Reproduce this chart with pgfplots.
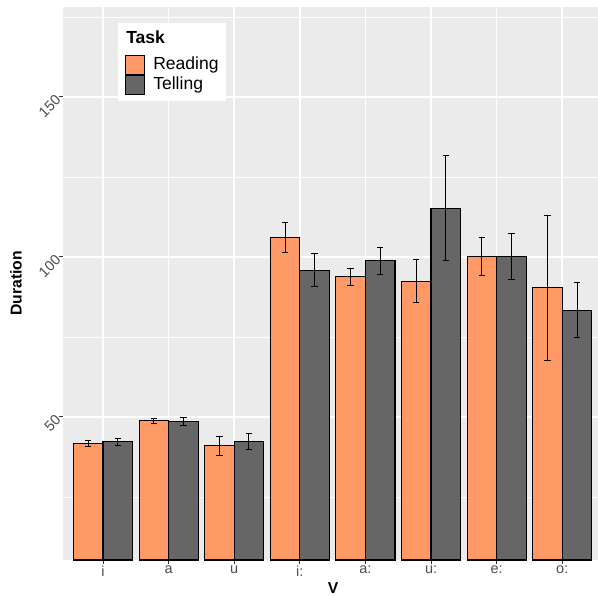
\documentclass[border=0pt]{standalone}
\usepackage{pgfplots}
\pgfplotsset{compat=1.18}
\usepackage{pgfplotstable}
\usepackage{fontspec}
\setmainfont{Liberation Sans}

\definecolor{panel}{HTML}{EBEBEB}
\definecolor{readc}{HTML}{FF9966}
\definecolor{tellc}{HTML}{666666}
\definecolor{ticklab}{HTML}{4D4D4D}
\definecolor{tickc}{HTML}{333333}

% vowel durations, mean and error bar (plus / minus)
\pgfplotstableread{
x r     rp    rm    t     tp    tm
0 41.8  0.8   1.1   42.3  1.0   1.3
1 48.75 0.75  0.75  48.5  1.3   1.2
2 41.0  3.0   2.9   42.4  2.5   2.5
3 106.0 4.7   4.5   95.9  5.1   5.0
4 93.75 2.55  2.75  99.0  4.1   4.4
5 92.4  6.7   6.7   115.2 16.5  16.4
6 100.1 5.9   5.9   100.1 7.2   7.0
7 90.4  22.7  22.7  83.4  8.6   8.6
}\durtable

\pgfplotsset{
  errs/.style={draw=none, mark=none, forget plot,
    error bars/.cd, y dir=both, y explicit, error mark=-,
    error bar style={draw=black, line width=1bp},
    error mark options={draw=black, line width=1bp, mark size=3.2bp, rotate=90}},
}

\begin{document}
\begin{tikzpicture}
\useasboundingbox (-63bp,-36bp) rectangle (535bp,560bp);
\begin{axis}[
  at={(0,0)}, anchor=south west,
  scale only axis, width=535bp, height=553bp,
  xmin=-0.61, xmax=7.545, ymin=5.3, ymax=178.1,
  axis background/.style={fill=panel},
  axis line style={draw=none},
  xtick={0,...,7},
  xticklabels={i,a,u,i:,a:,u:,e:,o:},
  ytick={50,100,150},
  minor ytick={25,75,125,175},
  xmajorgrids, ymajorgrids, yminorgrids,
  major grid style={white, line width=1.5bp},
  minor grid style={white, line width=0.75bp},
  tick align=outside,
  xtick pos=lower, ytick pos=left,
  major tick length=4bp, minor tick length=0bp,
  tick style={tickc, line width=1bp},
  /pgf/number format/assume math mode=true,
  ticklabel style={font=\fontsize{14.5}{16}\selectfont, text=ticklab},
  yticklabel style={rotate=45, anchor=east, inner sep=1bp},
  xticklabel style={inner sep=2bp},
  xlabel={V},
  ylabel={Duration},
  every axis x label/.style={at={(axis description cs:0.505,-0.0506)}, anchor=center,
    font=\fontsize{15.8}{18}\selectfont\bfseries},
  every axis y label/.style={at={(axis description cs:-0.0879,0.5)}, rotate=90, anchor=center,
    font=\fontsize{15.8}{18}\selectfont\bfseries},
  legend style={at={(axis description cs:0.1028,0.971)}, anchor=north west,
    draw=none, fill=white, inner xsep=7bp, inner ysep=6bp, row sep=0bp,
    font=\fontsize{17.6}{20}\selectfont,
    nodes={inner sep=0bp, text height=14bp, text depth=6bp}},
  legend cell align=left,
  legend image code/.code={\draw[#1] (0bp,-9.5bp) rectangle (19bp,9.5bp); \path (27bp,0bp);},
]
\addlegendimage{draw=none, legend image code/.code={\path[draw=none, fill=none] (0bp,-16bp) rectangle (27bp,8bp);}}
\addlegendentry{\hspace{-27bp}\textbf{Task}}
\addplot[ybar, bar width=0.45, bar shift=-0.225, fill=readc, draw=black, line width=1.1bp]
  table[x=x, y=r] {\durtable};
\addlegendentry{Reading}
\addplot[ybar, bar width=0.45, bar shift=0.225, fill=tellc, draw=black, line width=1.1bp]
  table[x=x, y=t] {\durtable};
\addlegendentry{Telling}
\addplot[errs] table[x expr=\thisrow{x}-0.225, y=r, y error plus=rp, y error minus=rm] {\durtable};
\addplot[errs] table[x expr=\thisrow{x}+0.225, y=t, y error plus=tp, y error minus=tm] {\durtable};
\end{axis}
\end{tikzpicture}
\end{document}
